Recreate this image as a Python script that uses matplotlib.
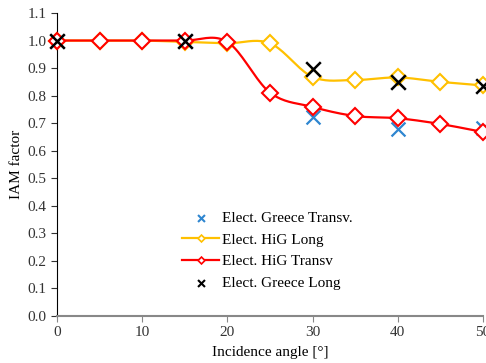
import numpy as np
import matplotlib.pyplot as plt

plt.rcParams['font.family'] = ['Liberation Serif', 'DejaVu Serif']

angle = [0, 5, 10, 15, 20, 25, 30, 35, 40, 45, 50]
hig_long = [1.0, 1.0, 1.0, 0.995, 0.99, 0.99, 0.868, 0.857, 0.866, 0.85, 0.837]
hig_transv = [1.0, 1.0, 1.0, 1.0, 0.995, 0.811, 0.759, 0.726, 0.718, 0.697, 0.668]

greece_angle = [0, 15, 30, 40, 50]
greece_transv = [1.0, 1.0, 0.722, 0.678, 0.682]
greece_long = [1.0, 1.0, 0.897, 0.85, 0.835]


def smooth(x, y, n=20):
    # Catmull-Rom curve through the points, similar to Excel's smoothed line
    x = np.asarray(x, float); y = np.asarray(y, float)
    px = np.concatenate([[2 * x[0] - x[1]], x, [2 * x[-1] - x[-2]]])
    py = np.concatenate([[2 * y[0] - y[1]], y, [2 * y[-1] - y[-2]]])
    xs, ys = [], []
    t = np.linspace(0, 1, n, endpoint=False)
    for i in range(1, len(px) - 2):
        for p, out in ((px, xs), (py, ys)):
            p0, p1, p2, p3 = p[i - 1], p[i], p[i + 1], p[i + 2]
            out.extend(0.5 * (2 * p1 + (-p0 + p2) * t + (2 * p0 - 5 * p1 + 4 * p2 - p3) * t ** 2
                              + (-p0 + 3 * p1 - 3 * p2 + p3) * t ** 3))
    xs.append(x[-1]); ys.append(y[-1])
    return xs, ys


fig = plt.figure(figsize=(4.86, 3.63), dpi=100)
ax = fig.add_axes([57 / 486, 1 - 316 / 363, 426 / 486, 303 / 363])

yellow = '#FFC000'
red = '#FF0000'
blue = '#2E86D0'
fs = 11

ax.scatter(greece_angle, greece_transv, marker='x', s=100, color=blue, linewidths=1.6, zorder=3, clip_on=False)
sx, sy = smooth(angle, hig_long)
ax.plot(sx, sy, color=yellow, lw=1.6, zorder=2, clip_on=False)
ax.plot(angle, hig_long, ls='none', marker='D', ms=8.5, mfc='white', mec=yellow, mew=1.5, zorder=2, clip_on=False)
sx, sy = smooth(angle, hig_transv)
ax.plot(sx, sy, color=red, lw=1.6, zorder=4, clip_on=False)
ax.plot(angle, hig_transv, ls='none', marker='D', ms=8.5, mfc='white', mec=red, mew=1.5, zorder=4, clip_on=False)
ax.scatter(greece_angle, greece_long, marker='x', s=110, color='black', linewidths=1.8, zorder=5, clip_on=False)

h1 = ax.scatter([], [], marker='x', s=25, color=blue, linewidths=1.5)
h2, = ax.plot([], [], color=yellow, lw=1.6, marker='D', ms=3.5, mfc='white', mec=yellow, mew=1.2)
h3, = ax.plot([], [], color=red, lw=1.6, marker='D', ms=3.5, mfc='white', mec=red, mew=1.2)
h4 = ax.scatter([], [], marker='x', s=25, color='black', linewidths=1.5)
ax.legend([h1, h2, h3, h4],
          ['Elect. Greece Transv.', 'Elect. HiG Long', 'Elect. HiG Transv', 'Elect. Greece Long'],
          loc='upper left', bbox_to_anchor=(125 / 426, 0.345), frameon=False, fontsize=fs,
          borderpad=0, borderaxespad=0, handlelength=2.45, handletextpad=0.15, labelspacing=0.52)

ax.set_xlim(0, 50)
ax.set_ylim(0, 1.1)
ax.set_xticks([0, 10, 20, 30, 40, 50])
ax.set_yticks(np.arange(0, 1.11, 0.1))
ax.yaxis.set_major_formatter(plt.FormatStrFormatter('%.1f'))
ax.tick_params(labelsize=fs, colors='#333333', length=4)
ax.tick_params(axis='x', color='#888888')
ax.spines['top'].set_visible(False)
ax.spines['right'].set_visible(False)
ax.spines['bottom'].set_color('#888888')
ax.spines['bottom'].set_linewidth(1.5)
ax.spines['left'].set_color('black')
ax.set_xlabel('Incidence angle [°]', fontsize=fs, labelpad=5)
ax.set_ylabel('IAM factor', fontsize=fs, labelpad=3)

fig.savefig('out.png', dpi=100)
